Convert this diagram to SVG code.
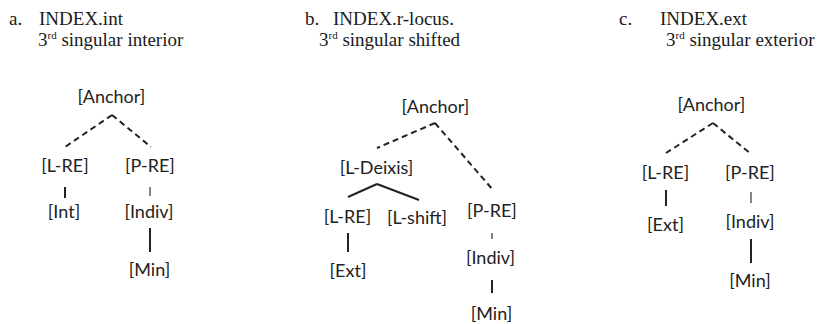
<svg xmlns="http://www.w3.org/2000/svg" width="825" height="324" viewBox="0 0 825 324">
<style>
.t{font-family:"Liberation Serif","Times New Roman",serif;font-size:19px;fill:#1a1a1a}
.s{font-size:11px}
.n{font-family:Lato,"Liberation Sans",sans-serif;font-size:18px;fill:#222;text-anchor:middle}
.d{stroke:#222;stroke-width:2;stroke-dasharray:6 4;fill:none}
.l{stroke:#222;stroke-width:2;fill:none}
.th{stroke:#444;stroke-width:1.3;fill:none}
</style>
<rect width="825" height="324" fill="#fff"/>
<g id="titles">
<text class="t" x="9" y="25">a.</text>
<text class="t" x="39" y="25">INDEX.int</text>
<text class="t" x="38" y="46">3<tspan class="s" dy="-7">rd</tspan><tspan dy="7"> singular interior</tspan></text>
<text class="t" x="305" y="25">b.</text>
<text class="t" x="333" y="25">INDEX.r-locus.</text>
<text class="t" x="319" y="46">3<tspan class="s" dy="-7">rd</tspan><tspan dy="7"> singular shifted</tspan></text>
<text class="t" x="619" y="25">c.</text>
<text class="t" x="660" y="25">INDEX.ext</text>
<text class="t" x="666" y="46">3<tspan class="s" dy="-7">rd</tspan><tspan dy="7"> singular exterior</tspan></text>
</g>
<g id="connectors">
<path class="d" d="M112 115 L65 147 M112 115 L151 147"/>
<path class="l" d="M65 187 V198"/>
<path class="th" d="M150 187 V196"/>
<path class="l" d="M150 228 V252"/>
<path class="d" d="M435 123 L377 148 M435 123 L493 190"/>
<path class="l" d="M377 184 L348 197 M377 184 L419 200"/>
<path class="l" d="M348 233 V252"/>
<path class="th" d="M492 233 V239"/>
<path class="l" d="M492 280 V293"/>
<path class="d" d="M713 123 L666 153 M713 123 L751 154"/>
<path class="l" d="M666 190 V206"/>
<path class="th" d="M751 192 V203"/>
<path class="l" d="M751 239 V263"/>
</g>
<g id="a-anchor"><text class="n" x="111.5" y="103">[Anchor]</text></g>
<g id="a-lre"><text class="n" x="65" y="172">[L-RE]</text></g>
<g id="a-pre"><text class="n" x="150" y="172">[P-RE]</text></g>
<g id="a-int"><text class="n" x="64" y="218">[Int]</text></g>
<g id="a-indiv"><text class="n" x="149" y="218">[Indiv]</text></g>
<g id="a-min"><text class="n" x="149.5" y="276">[Min]</text></g>
<g id="b-anchor"><text class="n" x="435.5" y="113">[Anchor]</text></g>
<g id="b-ldeixis"><text class="n" x="376.5" y="174">[L-Deixis]</text></g>
<g id="b-lre"><text class="n" x="347.5" y="223">[L-RE]</text></g>
<g id="b-lshift"><text class="n" x="417" y="224">[L-shift]</text></g>
<g id="b-pre"><text class="n" x="492" y="217">[P-RE]</text></g>
<g id="b-ext"><text class="n" x="348" y="277">[Ext]</text></g>
<g id="b-indiv"><text class="n" x="490.5" y="264">[Indiv]</text></g>
<g id="b-min"><text class="n" x="491.5" y="320">[Min]</text></g>
<g id="c-anchor"><text class="n" x="711.5" y="111">[Anchor]</text></g>
<g id="c-lre"><text class="n" x="665.5" y="179">[L-RE]</text></g>
<g id="c-pre"><text class="n" x="750" y="179">[P-RE]</text></g>
<g id="c-ext"><text class="n" x="665.5" y="231">[Ext]</text></g>
<g id="c-indiv"><text class="n" x="750" y="228">[Indiv]</text></g>
<g id="c-min"><text class="n" x="750" y="287">[Min]</text></g>
</svg>
